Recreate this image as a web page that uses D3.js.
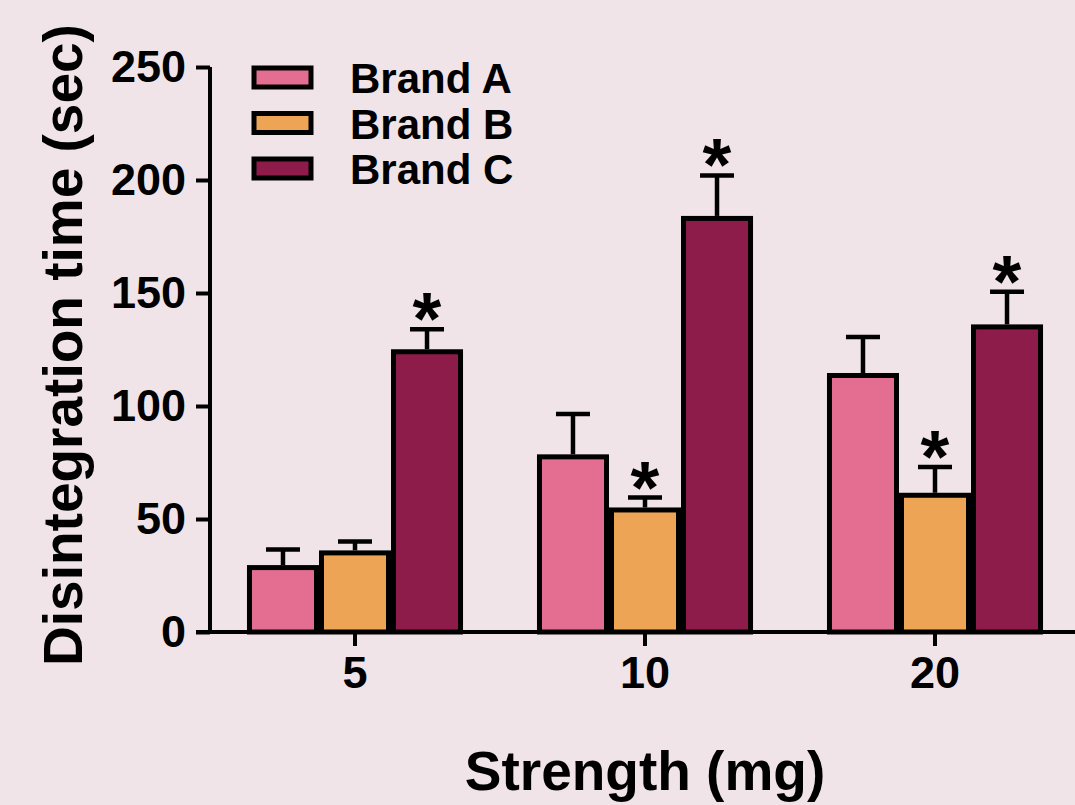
<!DOCTYPE html>
<html>
<head>
<meta charset="utf-8">
<script src="https://cdn.jsdelivr.net/npm/d3@7"></script>
<style>
  body { margin: 0; background: #f0e4e9; }
  svg { display: block; font-family: "Liberation Sans", Arial, sans-serif; font-weight: bold; }
</style>
</head>
<body>
<svg></svg>
<script>
const size = {w: 1075, h: 805};
const svg = d3.select('svg').attr('width', size.w).attr('height', size.h);

// data
const strengths = ['5', '10', '20'];
const brands = ['Brand A', 'Brand B', 'Brand C'];
const meanA = [28.5, 77.5, 113.5];
const meanB = [35, 54, 60.5];
const meanC = [124, 183, 135];
const upperA = [36.5, 96.5, 130.5];
const upperB = [40, 59.5, 73];
const upperC = [134, 202, 150.5];
const starA = [false, false, false];
const starB = [false, true, true];
const starC = [true, true, true];
const yTicks = [0, 50, 100, 150, 200, 250];

const colors = ['#e36e92', '#eea455', '#8e1c4b'];

// build rows for drawing
const means = [meanA, meanB, meanC];
const uppers = [upperA, upperB, upperC];
const stars = [starA, starB, starC];
let rows = [];
strengths.forEach((s, i) => {
    brands.forEach((b, j) => {
        rows.push({strength: s, brand: b, mean: means[j][i], upper: uppers[j][i], star: stars[j][i], ci: j});
    });
});

// scales
const y = d3.scaleLinear().domain([0, 250]).range([632, 67]);
const x0 = d3.scaleBand().domain(strengths).range([210, 1080])
    .paddingInner(0.255).paddingOuter(0.1275);
const x1 = d3.scaleBand().domain(brands).range([0, x0.bandwidth()]);
const sw = 5;

// bars
const barsG = svg.append('g').classed('bars', true);
barsG.selectAll('rect')
    .data(rows)
    .join('rect')
    .attr('x', d => x0(d.strength) + x1(d.brand) + sw / 2)
    .attr('y', d => y(d.mean))
    .attr('width', x1.bandwidth() - sw)
    .attr('height', d => y(0) - y(d.mean))
    .attr('fill', d => colors[d.ci])
    .attr('stroke', '#000')
    .attr('stroke-width', sw);

// error bars (upper only)
const errG = svg.append('g').classed('errors', true)
    .attr('stroke', '#000').attr('stroke-width', 4.5);
const cx = d => x0(d.strength) + x1(d.brand) + x1.bandwidth() / 2;
errG.selectAll('line.v')
    .data(rows)
    .join('line').classed('v', true)
    .attr('x1', cx).attr('x2', cx)
    .attr('y1', d => y(d.mean) - sw / 2)
    .attr('y2', d => y(d.upper));
errG.selectAll('line.cap')
    .data(rows)
    .join('line').classed('cap', true)
    .attr('x1', d => cx(d) - 17).attr('x2', d => cx(d) + 17)
    .attr('y1', d => y(d.upper)).attr('y2', d => y(d.upper));

// significance stars
svg.append('g').selectAll('text')
    .data(rows.filter(d => d.star))
    .join('text')
    .attr('x', cx)
    .attr('y', d => y(d.upper) + 15)
    .attr('text-anchor', 'middle')
    .attr('font-size', 74)
    .text('*');

// y axis
const yAxis = d3.axisLeft(y).tickValues(yTicks).tickSize(14).tickPadding(10);
const yG = svg.append('g').attr('transform', 'translate(210,0)').call(yAxis);
yG.select('.domain').attr('d', `M0,${y(250)}V${y(0)}`).attr('stroke-width', 4);
yG.selectAll('.tick line').attr('stroke-width', 4);
yG.selectAll('.tick text').attr('font-size', 45).attr('font-family', null).attr('fill', '#000');

// x axis
const xAxis = d3.axisBottom(x0).tickSize(14).tickPadding(10);
const xG = svg.append('g').attr('transform', `translate(0,${y(0)})`).call(xAxis);
xG.select('.domain').attr('d', 'M196,0H1075').attr('stroke-width', 4);
xG.selectAll('.tick line').attr('stroke-width', 4);
xG.selectAll('.tick text').attr('font-size', 45).attr('font-family', null).attr('fill', '#000');

// axis titles
svg.append('text')
    .attr('transform', 'translate(82,345) rotate(-90)')
    .attr('text-anchor', 'middle')
    .attr('font-size', 55)
    .text('Disintegration time (sec)');
svg.append('text')
    .attr('x', 645).attr('y', 790)
    .attr('text-anchor', 'middle')
    .attr('font-size', 55)
    .text('Strength (mg)');

// legend
const legend = svg.append('g').selectAll('g')
    .data(brands)
    .join('g')
    .attr('transform', (d, i) => `translate(254,${68 + i * 45.5})`);
legend.append('rect')
    .attr('width', 57).attr('height', 19)
    .attr('fill', (d, i) => colors[i])
    .attr('stroke', '#000').attr('stroke-width', 5);
legend.append('text')
    .attr('x', 96).attr('y', 25)
    .attr('font-size', 42)
    .text(d => d);
</script>
</body>
</html>
